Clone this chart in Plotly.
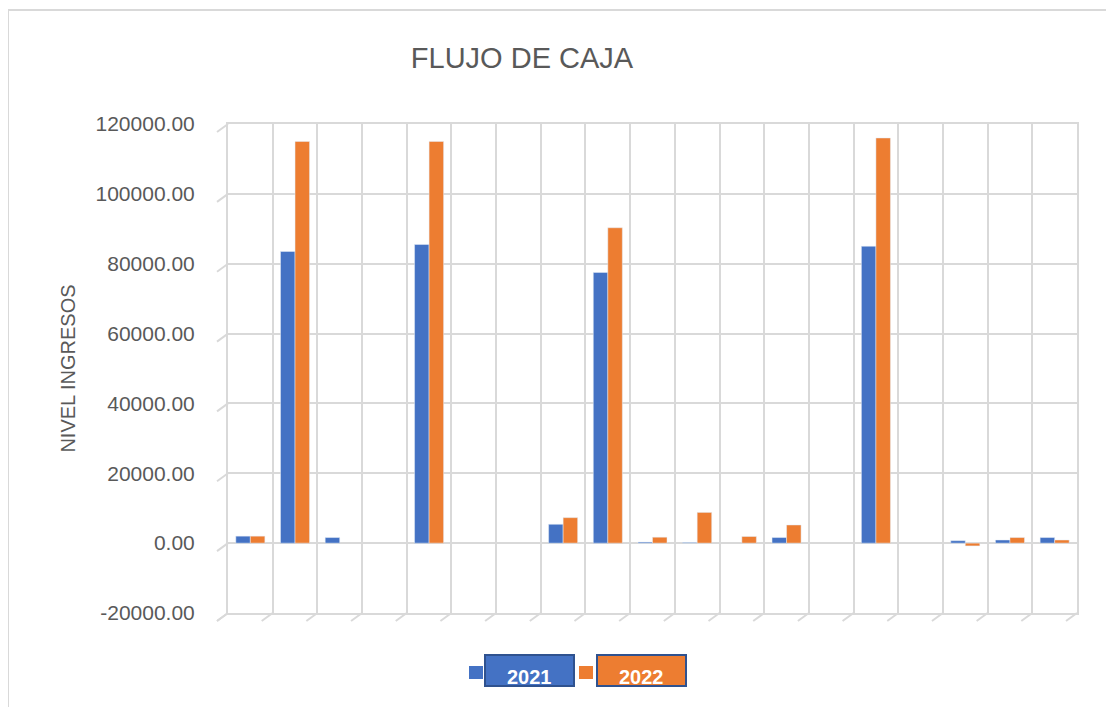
import plotly.graph_objects as go

categories = [str(i) for i in range(1, 20)]
values_2021 = [2000, 83500, 1600, None, 85500, None, None, 5400, 77500, 300, 200, None, 1600, None, 85000, None, 700, 900, 1600]
values_2022 = [2000, 115000, None, None, 115000, None, None, 7300, 90300, 1700, 8800, 1900, 5200, None, 116000, None, -800, 1600, 900]
y_ticks = [-20000, 0, 20000, 40000, 60000, 80000, 100000, 120000]
y_tick_labels = [f"{v:.2f}" for v in y_ticks]

BLUE = "#4472C4"
ORANGE = "#ED7D31"
GRID = "#D9D9D9"
TEXT = "#595959"

OFF = 8  # page body margin
W, H = 1114 - OFF, 707 - OFF
L, R, T, B = 228 - OFF, 1077 - OFF, 124 - OFF, 613 - OFF
Y_MIN, Y_MAX = -20000, 120000


def px(x):
    return (x - OFF - L) / (R - L)


def py(y):
    return (B - (y - OFF)) / (B - T)


fig = go.Figure()
fig.add_trace(go.Bar(name="2021", x=categories, y=values_2021, marker_color=BLUE))
fig.add_trace(go.Bar(name="2022", x=categories, y=values_2022, marker_color=ORANGE))

n = len(categories)
shapes = []
# 3D-style diagonal stubs along the floor and left wall
for i in range(n + 1):
    shapes.append(dict(type="line", xref="paper", yref="paper", xsizemode="pixel", ysizemode="pixel",
                       xanchor=i / n, yanchor=0, x0=0, x1=-11, y0=0, y1=-8,
                       line=dict(color=GRID, width=2)))
for v in y_ticks:
    shapes.append(dict(type="line", xref="paper", yref="paper", xsizemode="pixel", ysizemode="pixel",
                       xanchor=0, yanchor=(v - Y_MIN) / (Y_MAX - Y_MIN), x0=0, x1=-11, y0=0, y1=-8,
                       line=dict(color=GRID, width=2)))
# chart area border
shapes.append(dict(type="line", xref="paper", yref="paper", x0=px(8), x1=px(1130), y0=py(10), y1=py(10),
                   line=dict(color="#D9D9D9", width=2)))
shapes.append(dict(type="line", xref="paper", yref="paper", x0=px(8), x1=px(8), y0=py(10), y1=py(730),
                   line=dict(color="#D9D9D9", width=2)))
# legend
shapes.append(dict(type="rect", xref="paper", yref="paper", x0=px(469), x1=px(483), y0=py(679), y1=py(666),
                   fillcolor=BLUE, line=dict(width=0)))
shapes.append(dict(type="rect", xref="paper", yref="paper", x0=px(579), x1=px(593), y0=py(679), y1=py(666),
                   fillcolor=ORANGE, line=dict(width=0)))
shapes.append(dict(type="rect", xref="paper", yref="paper", x0=px(485), x1=px(574), y0=py(686), y1=py(655),
                   fillcolor=BLUE, line=dict(color="#2F528F", width=2)))
shapes.append(dict(type="rect", xref="paper", yref="paper", x0=px(597), x1=px(686), y0=py(686), y1=py(655),
                   fillcolor=ORANGE, line=dict(color="#2F528F", width=2)))

annotations = [
    dict(text="2021", xref="paper", yref="paper", x=px(529.5), y=py(677), xanchor="center", yanchor="middle",
         showarrow=False, font=dict(family="Liberation Sans, Arial", size=20, color="white", weight="bold")),
    dict(text="2022", xref="paper", yref="paper", x=px(641.5), y=py(677), xanchor="center", yanchor="middle",
         showarrow=False, font=dict(family="Liberation Sans, Arial", size=20, color="white", weight="bold")),
]

fig.update_layout(
    width=W, height=H,
    margin=dict(l=L, r=W - R, t=T, b=H - B),
    paper_bgcolor="white", plot_bgcolor="white",
    barmode="group", bargap=0.35, bargroupgap=0,
    showlegend=False,
    title=dict(text="FLUJO DE CAJA", xref="container", x=(522 - OFF) / W, xanchor="center",
               yref="container", y=1 - (58 - OFF) / H, yanchor="middle",
               font=dict(family="Liberation Sans, Arial", size=29, color=TEXT)),
    font=dict(family="Liberation Sans, Arial", color=TEXT),
    shapes=shapes,
    annotations=annotations,
)
fig.update_xaxes(type="category", tickson="boundaries", showgrid=True, gridcolor=GRID, gridwidth=2,
                 showticklabels=False, ticks="", showline=True, linecolor=GRID, linewidth=2, mirror=True,
                 range=[-0.5, n - 0.5], fixedrange=True)
fig.update_yaxes(range=[Y_MIN, Y_MAX], tickvals=y_ticks, ticktext=y_tick_labels,
                 showgrid=True, gridcolor=GRID, gridwidth=2, zeroline=False,
                 showline=True, linecolor=GRID, linewidth=2, mirror=True,
                 tickfont=dict(size=21, color=TEXT), ticklabelstandoff=27,
                 title=dict(text="NIVEL INGRESOS", font=dict(size=20, color=TEXT), standoff=15))

fig.write_html("out.html")
